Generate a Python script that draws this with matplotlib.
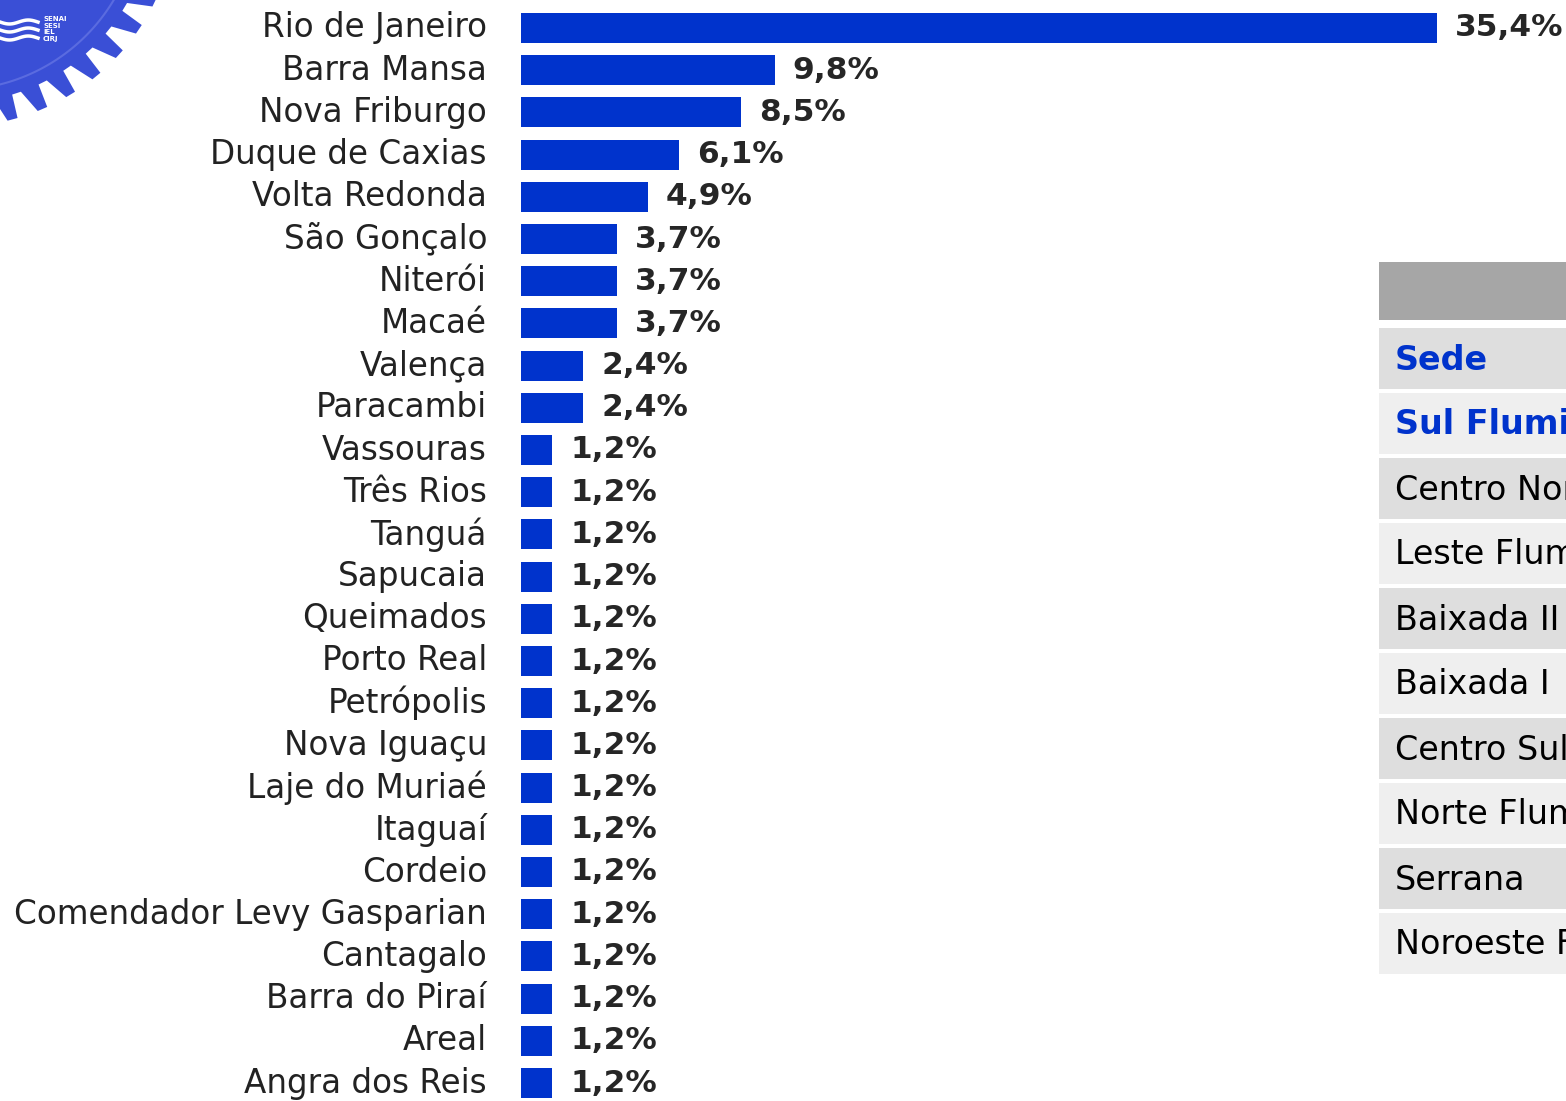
import numpy as np
import matplotlib
matplotlib.use("Agg")
import matplotlib.pyplot as plt
from matplotlib.patches import Rectangle, Polygon

W, H = 1566, 1101

cities = ["Rio de Janeiro", "Barra Mansa", "Nova Friburgo", "Duque de Caxias",
          "Volta Redonda", "São Gonçalo", "Niterói", "Macaé", "Valença",
          "Paracambi", "Vassouras", "Três Rios", "Tanguá", "Sapucaia",
          "Queimados", "Porto Real", "Petrópolis", "Nova Iguaçu",
          "Laje do Muriaé", "Itaguaí", "Cordeio", "Comendador Levy Gasparian",
          "Cantagalo", "Barra do Piraí", "Areal", "Angra dos Reis"]
shares = [35.4, 9.8, 8.5, 6.1, 4.9, 3.7, 3.7, 3.7, 2.4, 2.4] + [1.2] * 16

regions = ["Sede", "Sul Fluminense", "Centro Norte", "Leste Fluminense",
           "Baixada II", "Baixada I", "Centro Sul", "Norte Fluminense",
           "Serrana", "Noroeste Fluminense"]
highlighted = ["Sede", "Sul Fluminense"]

BLUE = "#0033CC"
plt.rcParams["font.family"] = ["DejaVu Sans"]

fig = plt.figure(figsize=(W / 100, H / 100), dpi=100)

# --- bar chart ---
px_per_unit = 916 / 35.4
row = 42.2
left = 521
top_px = 28 - row / 2
bot_px = top_px + row * len(cities)
ax = fig.add_axes([left / W, 1 - bot_px / H, (W - left) / W, (bot_px - top_px) / H])
y = np.arange(len(cities))
ax.barh(y, shares, height=0.71, color=BLUE)
ax.set_xlim(0, (W - left) / px_per_unit)
ax.set_ylim(len(cities) - 0.5, -0.5)
ax.axis("off")
for yi, (name, v) in enumerate(zip(cities, shares)):
    ax.text(-34 / px_per_unit, yi, name, ha="right", va="center",
            fontsize=23.5, color="#222222")
    ax.text(v + 18 / px_per_unit, yi, f"{v:.1f}%".replace(".", ","),
            ha="left", va="center", fontsize=22.5, fontweight="bold",
            color="#262626")

# --- region table (cut off at the right edge, as in the slide) ---
tx = fig.add_axes([0, 0, 1, 1])
tx.set_xlim(0, W)
tx.set_ylim(H, 0)
tx.axis("off")
tx.add_patch(Rectangle((1379, 262), 400, 58, color="#a6a6a6", lw=0))
for i, name in enumerate(regions):
    y0 = 328 + i * 65
    shade = "#dedede" if i % 2 == 0 else "#efefef"
    tx.add_patch(Rectangle((1379, y0), 400, 61, color=shade, lw=0))
    hl = name in highlighted
    tx.text(1395, y0 + 32, name, ha="left", va="center", fontsize=24,
            color=BLUE if hl else "black", fontweight="bold" if hl else "normal",
            clip_on=True)

# --- logo corner (gear) ---
cx, cy = -45, -95
n_teeth = 44
ang = np.linspace(0, 2 * np.pi, n_teeth * 4, endpoint=False)
rad = np.tile([222, 222, 198, 198], n_teeth)
ang = ang + np.tile([0, 0.3, 0.5, 0.8], n_teeth) * (2 * np.pi / n_teeth / 4)
pts = np.column_stack([cx + rad * np.cos(ang), cy + rad * np.sin(ang)])
tx.add_patch(Polygon(pts, closed=True, color="#3a4fd6", lw=0))
t = np.linspace(0, np.pi / 2, 100)
tx.plot(cx + 185 * np.cos(t), cy + 185 * np.sin(t), color="#5a6be0", lw=1.5)
for k in range(3):
    xs = np.linspace(0, 38, 20)
    tx.plot(xs, 22 + k * 8 + 2 * np.sin(xs / 6), color="white", lw=2.5)
tx.text(43, 16, "SENAI\nSESI\nIEL\nCIRJ", color="white", fontsize=5,
        fontweight="bold", va="top", ha="left", linespacing=1.1)

fig.savefig("out.png", dpi=100)
